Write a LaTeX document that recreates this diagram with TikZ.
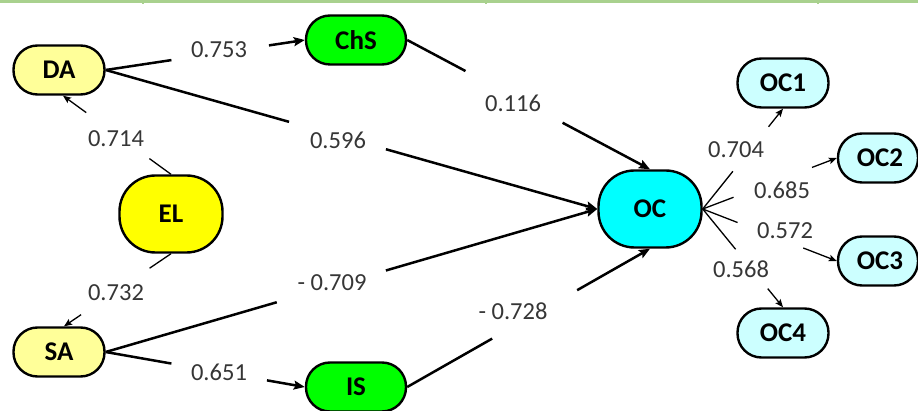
\documentclass[tikz,border=0pt]{standalone}
\usepackage{fontspec}
\setmainfont{Carlito}
\usetikzlibrary{arrows.meta}
\definecolor{paleyel}{HTML}{FFFF99}
\definecolor{yel}{HTML}{FFFF00}
\definecolor{grn}{HTML}{00FF00}
\definecolor{cyn}{HTML}{00FFFF}
\definecolor{palecyn}{HTML}{CCFFFF}
\definecolor{labgray}{HTML}{363636}
\definecolor{gridgreen}{HTML}{A9D18E}
\begin{document}
\begin{tikzpicture}[x=1pt,y=-1pt,
 box/.style={draw, line width=2.4pt, rounded corners=24pt, minimum width=91pt, minimum height=49pt, inner sep=0pt, font=\bfseries\fontsize{27}{27}\selectfont},
 bigbox/.style={box, rounded corners=36pt, minimum width=103pt, minimum height=77pt},
 widebox/.style={minimum width=100pt},
 lab/.style={inner sep=0pt, text=labgray, font=\fontsize{24.5}{24.5}\selectfont},
 thickline/.style={line width=2.5pt},
 thinline/.style={line width=1.3pt},
 bigarrow/.style={-{Stealth[length=11pt,width=9pt,inset=2pt]}},
 smallarrow/.style={-{Stealth[length=8pt,width=6.5pt,inset=1.5pt]}}
]
\useasboundingbox (0,0) rectangle (918,411);
% top grid line
\draw[gridgreen, line width=2.2pt] (0,1.6) -- (918,1.6);
\foreach \gx in {143,486,818} \draw[gridgreen, line width=1.8pt] (\gx,0) -- (\gx,4);

% nodes
\node[box, fill=paleyel] (DA) at (59,70) {DA};
\node[box, fill=grn, widebox] (ChS) at (356,40) {ChS};
\node[bigbox, fill=yel] (EL) at (171,214) {EL};
\node[box, fill=paleyel] (SA) at (59,352) {SA};
\node[box, fill=grn, widebox] (IS) at (356,387) {IS};
\node[bigbox, fill=cyn] (OC) at (650,209) {OC};
\node[box, fill=palecyn] (OC1) at (783,83) {OC1};
\node[box, fill=palecyn, minimum width=80pt] (OC2) at (878,158) {\hspace*{4pt}OC2};
\node[box, fill=palecyn, minimum width=80pt] (OC3) at (878,261) {\hspace*{4pt}OC3};
\node[box, fill=palecyn] (OC4) at (783,333) {OC4};

% labels
\node[lab] (L1) at (219,50) {0.753};
\node[lab] (L2) at (338,140) {0.596};
\node[lab] (L3) at (513,103) {0.116};
\node[lab] (L4) at (332,283) {- 0.709};
\node[lab] (L5) at (513,311) {- 0.728};
\node[lab] (L6) at (219,372) {0.651};
\node[lab] (L7) at (116,139) {0.714};
\node[lab] (L8) at (116,293) {0.732};
\node[lab] (L9) at (736,150) {0.704};
\node[lab] (L10) at (782,190) {0.685};
\node[lab] (L11) at (785,231) {0.572};
\node[lab] (L12) at (741,269) {0.568};

% thick connectors
\path (DA.east) -- (ChS.west) coordinate[pos=0.33] (a1) coordinate[pos=0.82] (b1);
\draw[thickline] (DA.east) -- (a1);
\draw[thickline, bigarrow] (b1) -- (ChS.west);

\path (DA.east) -- (OC.west) coordinate[pos=0.373] (a2) coordinate[pos=0.57] (b2);
\draw[thickline] (DA.east) -- (a2);
\draw[thickline, bigarrow] (b2) -- (OC.west);

\path (ChS.east) -- (OC.north) coordinate[pos=0.24] (a3) coordinate[pos=0.64] (b3);
\draw[thickline] (ChS.east) -- (a3);
\draw[thickline, bigarrow] (b3) -- (OC.north);

\path (SA.east) -- (OC.west) coordinate[pos=0.348] (a4) coordinate[pos=0.57] (b4);
\draw[thickline] (SA.east) -- (a4);
\draw[thickline, bigarrow] (b4) -- (OC.west);

\path (IS.east) -- (OC.south) coordinate[pos=0.35] (a5) coordinate[pos=0.70] (b5);
\draw[thickline] (IS.east) -- (a5);
\draw[thickline, bigarrow] (b5) -- (OC.south);

\path (SA.east) -- (IS.west) coordinate[pos=0.33] (a6) coordinate[pos=0.81] (b6);
\draw[thickline] (SA.east) -- (a6);
\draw[thickline, bigarrow] (b6) -- (IS.west);

% thin connectors
\coordinate (DAin) at ([xshift=4pt]DA.south);
\coordinate (SAin) at ([xshift=5pt]SA.north);
\path (EL.north) -- (DAin) coordinate[pos=0.2] (a7) coordinate[pos=0.785] (b7);
\draw[thinline] (EL.north) -- (a7);
\draw[thinline, smallarrow] (b7) -- (DAin);

\path (EL.south) -- (SAin) coordinate[pos=0.2] (a8) coordinate[pos=0.84] (b8);
\draw[thinline] (EL.south) -- (a8);
\draw[thinline, smallarrow] (b8) -- (SAin);

\path (OC.east) -- (OC1.south) coordinate[pos=0.376] (a9) coordinate[pos=0.82] (b9);
\draw[thinline] (OC.east) -- (a9);
\draw[thinline, smallarrow] (b9) -- (OC1.south);

\path (OC.east) -- (OC2.west) coordinate[pos=0.23] (a10) coordinate[pos=0.815] (b10);
\draw[thinline] (OC.east) -- (a10);
\draw[thinline, smallarrow] (b10) -- (OC2.west);

\path (OC.east) -- (OC3.west) coordinate[pos=0.26] (a11) coordinate[pos=0.75] (b11);
\draw[thinline] (OC.east) -- (a11);
\draw[thinline, smallarrow] (b11) -- (OC3.west);

\path (OC.east) -- (OC4.north) coordinate[pos=0.41] (a12) coordinate[pos=0.81] (b12);
\draw[thinline] (OC.east) -- (a12);
\draw[thinline, smallarrow] (b12) -- (OC4.north);
\end{tikzpicture}
\end{document}
